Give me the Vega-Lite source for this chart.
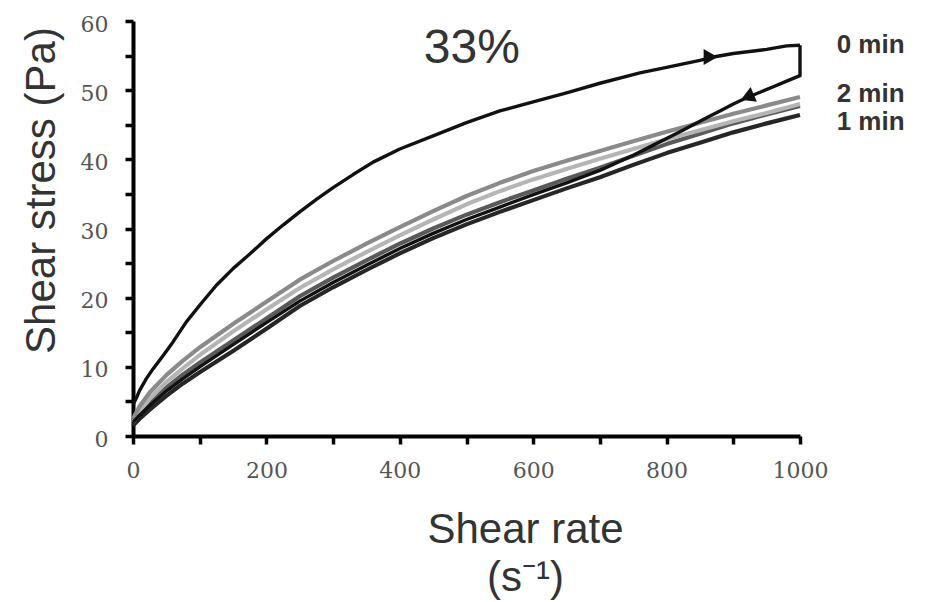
{
  "$schema": "https://vega.github.io/schema/vega-lite/v6.json",
  "width": 667,
  "height": 415,
  "autosize": {"type": "none"},
  "padding": {"left": 133, "top": 21, "right": 126, "bottom": 166},
  "background": "white",
  "config": {"view": {"stroke": null}},
  "datasets": {
    "curves": [
      {"s":"1 min down","i":0,"x":0,"y":1.5},{"s":"1 min down","i":1,"x":10,"y":2.5},{"s":"1 min down","i":2,"x":25,"y":3.8},{"s":"1 min down","i":3,"x":50,"y":5.8},{"s":"1 min down","i":4,"x":75,"y":7.6},{"s":"1 min down","i":5,"x":100,"y":9.2},{"s":"1 min down","i":6,"x":150,"y":12.3},{"s":"1 min down","i":7,"x":200,"y":15.5},{"s":"1 min down","i":8,"x":250,"y":18.8},{"s":"1 min down","i":9,"x":300,"y":21.5},{"s":"1 min down","i":10,"x":350,"y":24.0},{"s":"1 min down","i":11,"x":400,"y":26.4},{"s":"1 min down","i":12,"x":450,"y":28.6},{"s":"1 min down","i":13,"x":500,"y":30.6},{"s":"1 min down","i":14,"x":550,"y":32.4},{"s":"1 min down","i":15,"x":600,"y":34.1},{"s":"1 min down","i":16,"x":650,"y":35.8},{"s":"1 min down","i":17,"x":700,"y":37.4},{"s":"1 min down","i":18,"x":750,"y":39.2},{"s":"1 min down","i":19,"x":800,"y":40.9},{"s":"1 min down","i":20,"x":850,"y":42.4},{"s":"1 min down","i":21,"x":900,"y":43.9},{"s":"1 min down","i":22,"x":950,"y":45.2},{"s":"1 min down","i":23,"x":1000,"y":46.4},
      {"s":"1 min up","i":0,"x":0,"y":2.0},{"s":"1 min up","i":1,"x":10,"y":3.2},{"s":"1 min up","i":2,"x":25,"y":4.8},{"s":"1 min up","i":3,"x":50,"y":7.0},{"s":"1 min up","i":4,"x":75,"y":8.9},{"s":"1 min up","i":5,"x":100,"y":10.6},{"s":"1 min up","i":6,"x":150,"y":13.8},{"s":"1 min up","i":7,"x":200,"y":17.0},{"s":"1 min up","i":8,"x":250,"y":20.2},{"s":"1 min up","i":9,"x":300,"y":22.9},{"s":"1 min up","i":10,"x":350,"y":25.4},{"s":"1 min up","i":11,"x":400,"y":27.8},{"s":"1 min up","i":12,"x":450,"y":30.0},{"s":"1 min up","i":13,"x":500,"y":32.0},{"s":"1 min up","i":14,"x":550,"y":33.8},{"s":"1 min up","i":15,"x":600,"y":35.5},{"s":"1 min up","i":16,"x":650,"y":37.2},{"s":"1 min up","i":17,"x":700,"y":38.8},{"s":"1 min up","i":18,"x":750,"y":40.5},{"s":"1 min up","i":19,"x":800,"y":42.2},{"s":"1 min up","i":20,"x":850,"y":43.7},{"s":"1 min up","i":21,"x":900,"y":45.2},{"s":"1 min up","i":22,"x":950,"y":46.5},{"s":"1 min up","i":23,"x":1000,"y":47.7},
      {"s":"2 min down","i":0,"x":0,"y":2.0},{"s":"2 min down","i":1,"x":10,"y":3.6},{"s":"2 min down","i":2,"x":25,"y":5.4},{"s":"2 min down","i":3,"x":50,"y":7.8},{"s":"2 min down","i":4,"x":75,"y":9.8},{"s":"2 min down","i":5,"x":100,"y":11.7},{"s":"2 min down","i":6,"x":150,"y":15.1},{"s":"2 min down","i":7,"x":200,"y":18.3},{"s":"2 min down","i":8,"x":250,"y":21.4},{"s":"2 min down","i":9,"x":300,"y":24.1},{"s":"2 min down","i":10,"x":350,"y":26.6},{"s":"2 min down","i":11,"x":400,"y":29.0},{"s":"2 min down","i":12,"x":450,"y":31.3},{"s":"2 min down","i":13,"x":500,"y":33.5},{"s":"2 min down","i":14,"x":550,"y":35.4},{"s":"2 min down","i":15,"x":600,"y":37.1},{"s":"2 min down","i":16,"x":650,"y":38.6},{"s":"2 min down","i":17,"x":700,"y":40.1},{"s":"2 min down","i":18,"x":750,"y":41.5},{"s":"2 min down","i":19,"x":800,"y":42.9},{"s":"2 min down","i":20,"x":850,"y":44.2},{"s":"2 min down","i":21,"x":900,"y":45.5},{"s":"2 min down","i":22,"x":950,"y":46.7},{"s":"2 min down","i":23,"x":1000,"y":48.0},
      {"s":"2 min up","i":0,"x":0,"y":2.5},{"s":"2 min up","i":1,"x":10,"y":4.3},{"s":"2 min up","i":2,"x":25,"y":6.3},{"s":"2 min up","i":3,"x":50,"y":8.8},{"s":"2 min up","i":4,"x":75,"y":10.9},{"s":"2 min up","i":5,"x":100,"y":12.8},{"s":"2 min up","i":6,"x":150,"y":16.2},{"s":"2 min up","i":7,"x":200,"y":19.4},{"s":"2 min up","i":8,"x":250,"y":22.6},{"s":"2 min up","i":9,"x":300,"y":25.3},{"s":"2 min up","i":10,"x":350,"y":27.8},{"s":"2 min up","i":11,"x":400,"y":30.2},{"s":"2 min up","i":12,"x":450,"y":32.5},{"s":"2 min up","i":13,"x":500,"y":34.7},{"s":"2 min up","i":14,"x":550,"y":36.6},{"s":"2 min up","i":15,"x":600,"y":38.3},{"s":"2 min up","i":16,"x":650,"y":39.8},{"s":"2 min up","i":17,"x":700,"y":41.2},{"s":"2 min up","i":18,"x":750,"y":42.6},{"s":"2 min up","i":19,"x":800,"y":44.0},{"s":"2 min up","i":20,"x":850,"y":45.3},{"s":"2 min up","i":21,"x":900,"y":46.6},{"s":"2 min up","i":22,"x":950,"y":47.8},{"s":"2 min up","i":23,"x":1000,"y":49.0},
      {"s":"0 min down","i":0,"x":1000,"y":56.5},{"s":"0 min down","i":1,"x":1000,"y":52.1},{"s":"0 min down","i":2,"x":980,"y":51.3},{"s":"0 min down","i":3,"x":960,"y":50.5},{"s":"0 min down","i":4,"x":940,"y":49.7},{"s":"0 min down","i":5,"x":920,"y":48.9},{"s":"0 min down","i":6,"x":900,"y":48.0},{"s":"0 min down","i":7,"x":880,"y":47.0},{"s":"0 min down","i":8,"x":860,"y":46.0},{"s":"0 min down","i":9,"x":840,"y":45.0},{"s":"0 min down","i":10,"x":820,"y":44.0},{"s":"0 min down","i":11,"x":800,"y":43.0},{"s":"0 min down","i":12,"x":775,"y":41.8},{"s":"0 min down","i":13,"x":750,"y":40.6},{"s":"0 min down","i":14,"x":700,"y":38.4},{"s":"0 min down","i":15,"x":650,"y":36.6},{"s":"0 min down","i":16,"x":600,"y":34.9},{"s":"0 min down","i":17,"x":550,"y":33.1},{"s":"0 min down","i":18,"x":500,"y":31.3},{"s":"0 min down","i":19,"x":450,"y":29.3},{"s":"0 min down","i":20,"x":400,"y":27.1},{"s":"0 min down","i":21,"x":350,"y":24.7},{"s":"0 min down","i":22,"x":300,"y":22.2},{"s":"0 min down","i":23,"x":250,"y":19.5},{"s":"0 min down","i":24,"x":200,"y":16.4},{"s":"0 min down","i":25,"x":150,"y":13.2},{"s":"0 min down","i":26,"x":100,"y":10.0},{"s":"0 min down","i":27,"x":75,"y":8.3},{"s":"0 min down","i":28,"x":50,"y":6.5},{"s":"0 min down","i":29,"x":25,"y":4.4},{"s":"0 min down","i":30,"x":10,"y":3.0},{"s":"0 min down","i":31,"x":0,"y":2.0},
      {"s":"0 min up","i":0,"x":0,"y":4.5},{"s":"0 min up","i":1,"x":5,"y":5.5},{"s":"0 min up","i":2,"x":10,"y":6.6},{"s":"0 min up","i":3,"x":20,"y":8.3},{"s":"0 min up","i":4,"x":30,"y":9.7},{"s":"0 min up","i":5,"x":45,"y":11.6},{"s":"0 min up","i":6,"x":60,"y":13.6},{"s":"0 min up","i":7,"x":80,"y":16.5},{"s":"0 min up","i":8,"x":100,"y":18.9},{"s":"0 min up","i":9,"x":125,"y":21.8},{"s":"0 min up","i":10,"x":150,"y":24.2},{"s":"0 min up","i":11,"x":175,"y":26.3},{"s":"0 min up","i":12,"x":200,"y":28.5},{"s":"0 min up","i":13,"x":225,"y":30.5},{"s":"0 min up","i":14,"x":250,"y":32.4},{"s":"0 min up","i":15,"x":275,"y":34.2},{"s":"0 min up","i":16,"x":300,"y":35.9},{"s":"0 min up","i":17,"x":330,"y":37.8},{"s":"0 min up","i":18,"x":360,"y":39.6},{"s":"0 min up","i":19,"x":400,"y":41.5},{"s":"0 min up","i":20,"x":450,"y":43.4},{"s":"0 min up","i":21,"x":500,"y":45.3},{"s":"0 min up","i":22,"x":550,"y":47.0},{"s":"0 min up","i":23,"x":600,"y":48.3},{"s":"0 min up","i":24,"x":650,"y":49.6},{"s":"0 min up","i":25,"x":700,"y":51.0},{"s":"0 min up","i":26,"x":760,"y":52.5},{"s":"0 min up","i":27,"x":800,"y":53.3},{"s":"0 min up","i":28,"x":850,"y":54.3},{"s":"0 min up","i":29,"x":870,"y":54.8},{"s":"0 min up","i":30,"x":900,"y":55.3},{"s":"0 min up","i":31,"x":950,"y":55.9},{"s":"0 min up","i":32,"x":980,"y":56.4},{"s":"0 min up","i":33,"x":1000,"y":56.5}
    ],
    "labels": [
      {"t":"0 min","x":1055,"y":56.5},
      {"t":"2 min","x":1055,"y":49.4},
      {"t":"1 min","x":1055,"y":45.4}
    ]
  },
  "encoding": {
    "x": {
      "field": "x", "type": "quantitative",
      "scale": {"domain": [0, 1000], "nice": false},
      "axis": {
        "values": [0,100,200,300,400,500,600,700,800,900,1000],
        "format": "d",
        "labelExpr": "datum.value % 200 == 0 ? datum.label : ''",
        "grid": false,
        "domainColor": "black", "domainWidth": 4,
        "tickColor": "black", "tickWidth": 3.5, "tickSize": 8,
        "labelFont": "DejaVu Serif", "labelFontSize": 22, "labelColor": "#555",
        "labelPadding": 16, "labelFlush": false, "labelOverlap": false,
        "title": ["Shear rate", "(s⁻¹)"],
        "titleFont": "Liberation Sans", "titleFontSize": 42, "titleFontWeight": "normal",
        "titleColor": "#333", "titleX": 392, "titleY": 73, "titleLineHeight": 48,
        "titleAlign": "center", "titleBaseline": "top"
      }
    },
    "y": {
      "field": "y", "type": "quantitative",
      "scale": {"domain": [0, 60], "nice": false},
      "axis": {
        "values": [0,5,10,15,20,25,30,35,40,45,50,55,60],
        "labelExpr": "datum.value % 10 == 0 ? datum.label : ''",
        "grid": false,
        "domainColor": "black", "domainWidth": 4,
        "tickColor": "black", "tickWidth": 3.5, "tickSize": 8,
        "labelFont": "DejaVu Serif", "labelFontSize": 22, "labelColor": "#555",
        "labelPadding": 17, "labelOffset": 3, "labelOverlap": false,
        "title": "Shear stress (Pa)",
        "titleFont": "Liberation Sans", "titleFontSize": 42, "titleFontWeight": "normal",
        "titleColor": "#333", "titleX": -70, "titleY": 169, "titleAngle": -90,
        "titleAlign": "center", "titleBaseline": "bottom"
      }
    }
  },
  "layer": [
    {
      "data": {"name": "curves"},
      "transform": [{"filter": "indexof(datum.s, '0 min') < 0"}],
      "mark": {"type": "line", "strokeWidth": 4.2, "strokeJoin": "round"},
      "encoding": {
        "color": {
          "field": "s", "type": "nominal",
          "scale": {
            "domain": ["1 min down", "1 min up", "2 min down", "2 min up", "0 min down", "0 min up"],
            "range": ["#262626", "#5a5a5a", "#b5b5b5", "#8a8a8a", "#111111", "#111111"]
          },
          "legend": null
        },
        "order": {"field": "i", "type": "quantitative"}
      }
    },
    {
      "data": {"name": "curves"},
      "transform": [{"filter": "indexof(datum.s, '0 min') >= 0"}],
      "mark": {"type": "line", "strokeWidth": 3.4, "strokeJoin": "round"},
      "encoding": {
        "color": {
          "field": "s", "type": "nominal",
          "scale": {
            "domain": ["1 min down", "1 min up", "2 min down", "2 min up", "0 min down", "0 min up"],
            "range": ["#262626", "#5a5a5a", "#b5b5b5", "#8a8a8a", "#111111", "#111111"]
          },
          "legend": null
        },
        "order": {"field": "i", "type": "quantitative"}
      }
    },
    {
      "data": {"values": [{"x": 866, "y": 54.8}]},
      "mark": {"type": "point", "shape": "triangle-right", "filled": true, "size": 260, "color": "#111", "opacity": 1},
      "encoding": {}
    },
    {
      "data": {"values": [{"x": 921, "y": 49.0}]},
      "mark": {"type": "point", "shape": "triangle-right", "filled": true, "size": 260, "color": "#111", "opacity": 1, "angle": 157},
      "encoding": {}
    },
    {
      "data": {"name": "labels"},
      "mark": {"type": "text", "align": "left", "baseline": "middle", "font": "Liberation Sans", "fontSize": 26, "fontWeight": "bold", "color": "#333"},
      "encoding": {"text": {"field": "t", "type": "nominal"}}
    },
    {
      "data": {"values": [{"t": "33%", "x": 508, "y": 55.9}]},
      "mark": {"type": "text", "align": "center", "baseline": "middle", "font": "Liberation Sans", "fontSize": 48, "color": "#333"},
      "encoding": {"text": {"field": "t", "type": "nominal"}}
    }
  ]
}
